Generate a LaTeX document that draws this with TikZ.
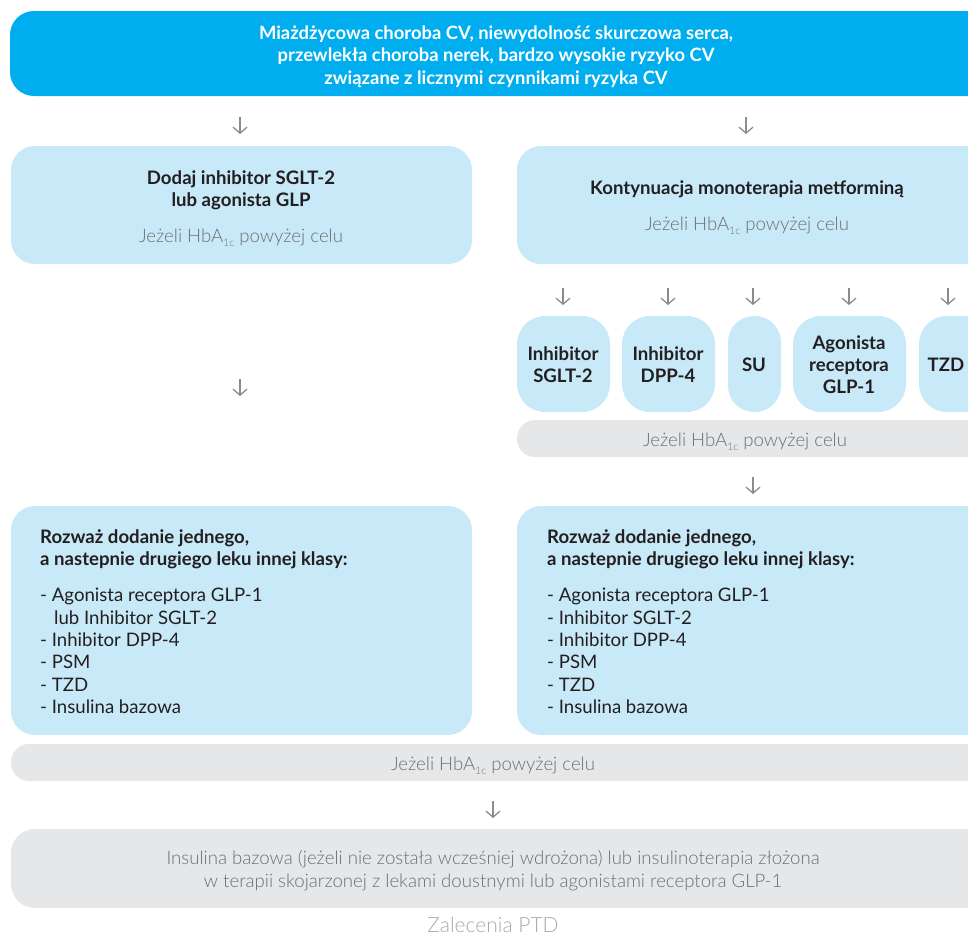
\documentclass[tikz,border=0pt]{standalone}
\usepackage{fontspec}
\setmainfont{Lato}
\newfontfamily\lightfont{Lato Light}
\usetikzlibrary{arrows.meta}
\definecolor{cvblue}{HTML}{00AEEF}
\definecolor{lblue}{HTML}{C8E9F8}
\definecolor{lgray}{HTML}{E6E7E8}
\definecolor{agray}{HTML}{8C8C8E}
\definecolor{tdark}{HTML}{231F20}
\definecolor{tgray}{HTML}{6D6E71}
\definecolor{tlgray}{HTML}{A7A9AC}
\newcommand\hbaone{HbA\raisebox{-4pt}{\fontsize{10.5}{10.5}\selectfont 1c}}
\tikzset{
  panel/.style={inner sep=0pt, draw=none, rounded corners=24pt},
  bluepanel/.style={panel, fill=cvblue},
  lightpanel/.style={panel, fill=lblue},
  pillpanel/.style={panel, fill=lblue, rounded corners=28pt},
  graypanel/.style={panel, fill=lgray},
  graybar/.style={inner sep=0pt, draw=none, fill=lgray, rounded corners=18pt},
  boldtxt/.style={inner sep=0pt, text=tdark, font=\bfseries\fontsize{18.6}{22}\selectfont},
  pilltxt/.style={inner sep=0pt, text=tdark, align=center, font=\bfseries\fontsize{18.6}{22}\selectfont},
  listtxt/.style={inner sep=0pt, text=tdark, align=left, font=\fontsize{18.6}{22.4}\selectfont},
  celtxt/.style={inner sep=0pt, text=tgray, font=\lightfont\fontsize{18.6}{22}\selectfont},
  arr/.style={draw=agray, line width=1.3pt, -{Straight Barb[length=6pt,width=14pt]}}
}
\begin{document}
\begin{tikzpicture}[x=1pt,y=-1pt]
\useasboundingbox (0,0) rectangle (968,937);

% top box
\node[bluepanel, minimum width=1000pt, minimum height=85pt] (top) at (510,53.5) {};
\node[inner sep=0pt, text=white, align=center, font=\bfseries\fontsize{18.4}{22.5}\selectfont] (toptxt) at (496,56.5)
  {Miażdżycowa choroba CV, niewydolność skurczowa serca,\\ przewlekła choroba nerek, bardzo wysokie ryzyko CV\\ związane z licznymi czynnikami ryzyka CV};

% arrows from top
\coordinate (a1s) at (240,117); \coordinate (a1e) at (240,134);
\coordinate (a2s) at (746,117); \coordinate (a2e) at (746,134);
\draw[arr] (a1s) -- (a1e);
\draw[arr] (a2s) -- (a2e);

% second row
\node[lightpanel, minimum width=461pt, minimum height=118pt] (L1) at (241.5,205) {};
\node[boldtxt, align=center] (L1t) at (241,190) {Dodaj inhibitor SGLT-2\\ lub agonista GLP};
\node[celtxt] (L1c) at (241,238) {Jeżeli \hbaone{} powyżej celu};

\node[lightpanel, minimum width=493pt, minimum height=118pt] (R1) at (763.5,205) {};
\node[boldtxt] (R1t) at (747,189) {Kontynuacja monoterapia metforminą};
\node[celtxt] (R1c) at (747,226) {Jeżeli \hbaone{} powyżej celu};

% arrows to pills
\coordinate (p1s) at (563,288); \coordinate (p1e) at (563,305);
\coordinate (p2s) at (668,288); \coordinate (p2e) at (668,305);
\coordinate (p3s) at (753,288); \coordinate (p3e) at (753,305);
\coordinate (p4s) at (849,288); \coordinate (p4e) at (849,305);
\coordinate (p5s) at (948,288); \coordinate (p5e) at (948,305);
\foreach \i in {1,...,5} {\draw[arr] (p\i s) -- (p\i e);}

% pills
\node[pillpanel, minimum width=93pt, minimum height=96pt] (s1) at (563.5,364) {};
\node[pillpanel, minimum width=93pt, minimum height=96pt] (s2) at (668.5,364) {};
\node[pillpanel, minimum width=53pt, minimum height=96pt, rounded corners=26pt] (s3) at (754.5,364) {};
\node[pillpanel, minimum width=113pt, minimum height=96pt] (s4) at (849.5,364) {};
\node[pillpanel, minimum width=100pt, minimum height=96pt] (s5) at (969,364) {};
\node[pilltxt] (s1t) at (563,365) {Inhibitor\\ SGLT-2};
\node[pilltxt] (s2t) at (668,365) {Inhibitor\\ DPP-4};
\node[pilltxt] (s3t) at (754,365) {SU};
\node[pilltxt] (s4t) at (849,365) {Agonista\\ receptora\\ GLP-1};
\node[pilltxt] (s5t) at (946,365) {TZD};

% gray bar right
\node[graybar, minimum width=493pt, minimum height=37pt] (g1) at (763.5,438.5) {};
\node[celtxt] (g1t) at (745,441.5) {Jeżeli \hbaone{} powyżej celu};

% arrows
\coordinate (b1s) at (753,477); \coordinate (b1e) at (753,494);
\draw[arr] (b1s) -- (b1e);
\coordinate (l1s) at (240,379); \coordinate (l1e) at (240,396);
\draw[arr] (l1s) -- (l1e);

% third row
\node[lightpanel, minimum width=461pt, minimum height=229pt] (L2) at (241.5,620.5) {};
\node[boldtxt, align=left, anchor=west] (L2h) at (40,549) {Rozważ dodanie jednego,\\ a nastepnie drugiego leku innej klasy:};
\node[listtxt, anchor=west] (L2l) at (40,651) {- Agonista receptora GLP-1\\ \hspace*{14pt}lub Inhibitor SGLT-2\\ - Inhibitor DPP-4\\ - PSM\\ - TZD\\ - Insulina bazowa};

\node[lightpanel, minimum width=493pt, minimum height=229pt] (R2) at (763.5,620.5) {};
\node[boldtxt, align=left, anchor=west] (R2h) at (547,549) {Rozważ dodanie jednego,\\ a nastepnie drugiego leku innej klasy:};
\node[listtxt, anchor=west] (R2l) at (547,651) {- Agonista receptora GLP-1\\ - Inhibitor SGLT-2\\ - Inhibitor DPP-4\\ - PSM\\ - TZD\\ - Insulina bazowa};

% bottom gray bar
\node[graybar, minimum width=999pt, minimum height=37pt] (g2) at (510.5,762.5) {};
\node[celtxt] (g2t) at (493,765.5) {Jeżeli \hbaone{} powyżej celu};

\coordinate (c1s) at (493,801); \coordinate (c1e) at (493,818);
\draw[arr] (c1s) -- (c1e);

% final box
\node[graypanel, minimum width=999pt, minimum height=79pt] (bot) at (510.5,868.5) {};
\node[celtxt, align=center, font=\lightfont\fontsize{18.6}{23}\selectfont] (bott) at (493,871)
  {Insulina bazowa (jeżeli nie została wcześniej wdrożona) lub insulinoterapia złożona\\ w terapii skojarzonej z lekami doustnymi lub agonistami receptora GLP-1};

\node[inner sep=0pt, text=tlgray, font=\lightfont\fontsize{21}{24}\selectfont] (cap) at (493,925) {Zalecenia PTD};
\end{tikzpicture}
\end{document}
